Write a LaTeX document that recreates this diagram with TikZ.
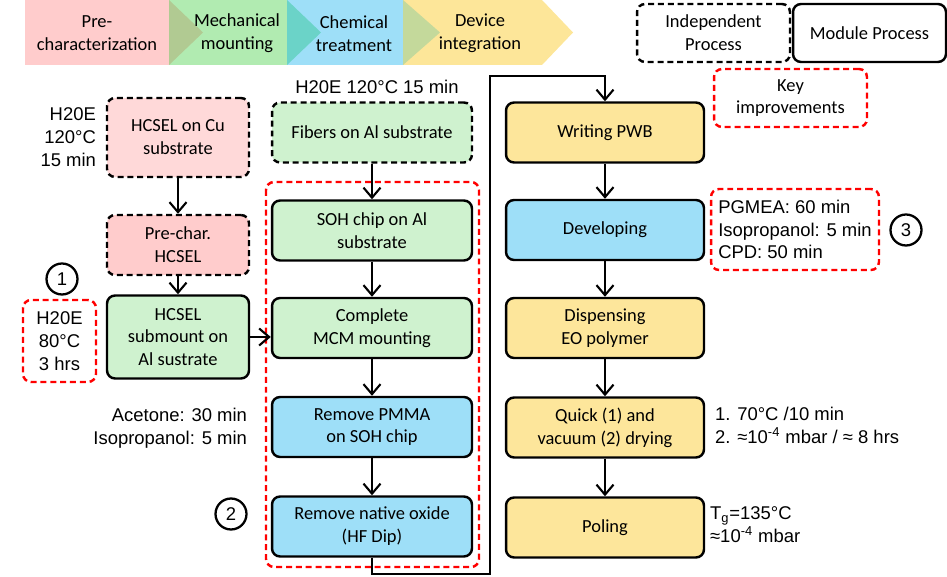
\documentclass[tikz,border=0pt]{standalone}
\usepackage{fontspec}
\setmainfont{Carlito}
\newfontfamily\arialfont{Liberation Sans}
\usetikzlibrary{arrows.meta}

\definecolor{pinkbar}{HTML}{FFCCCC}
\definecolor{greenbar}{HTML}{B1EBB1}
\definecolor{bluebar}{HTML}{9EDFF8}
\definecolor{yellowbar}{HTML}{FDE699}
\definecolor{olivetip}{HTML}{B1CA92}
\definecolor{tealtip}{HTML}{6BD3C8}
\definecolor{limetip}{HTML}{C4D99B}
\definecolor{pinklight}{HTML}{FFD9D9}
\definecolor{pinkbox}{HTML}{FFCCCC}
\definecolor{greenbox}{HTML}{CFF2CF}
\definecolor{bluebox}{HTML}{9EDFF8}
\definecolor{yellowbox}{HTML}{FDE69B}

\tikzset{
	procbox/.style={draw, line width=1.4pt, rounded corners=1.6mm, align=center, minimum width=3.96cm, minimum height=1.2cm, inner sep=1pt, font=\fontsize{10.5}{13}\selectfont},
	indepbox/.style={procbox, dash pattern=on 3.4pt off 2.2pt},
	keybox/.style={draw=red, line width=1.4pt, rounded corners=1.6mm, dash pattern=on 3.4pt off 2.2pt, inner sep=1pt},
	flow/.style={line width=1.2pt, -{Straight Barb[length=2mm,width=3.4mm]}},
	note/.style={font={\arialfont\fontsize{10.5}{13}\selectfont}, inner sep=1pt},
	stepnum/.style={draw, circle, line width=1.3pt, minimum size=0.62cm, inner sep=0pt, font={\arialfont\fontsize{10.5}{13}\selectfont}},
	barlabel/.style={align=center, inner sep=0pt, font=\fontsize{10.5}{13}\selectfont},
}

\begin{document}
\begin{tikzpicture}[x=0.02cm, y=-0.02cm]
			%%%%% START %%%%%
			\useasboundingbox (0, 0) rectangle (947, 577);
			
			%%%%% phase bar %%%%%
			\fill[pinkbar] (25, 0) rectangle (169, 65);
			\fill[greenbar] (169, 0) rectangle (287, 65);
			\fill[olivetip] (169, 0) -- (203, 32.5) -- (169, 65) -- cycle;
			\fill[bluebar] (287, 0) rectangle (403, 65);
			\fill[tealtip] (287, 0) -- (321, 32.5) -- (287, 65) -- cycle;
			\fill[yellowbar] (403, 0) -- (542, 0) -- (573, 32.5) -- (542, 65) -- (403, 65) -- cycle;
			\fill[limetip] (403, 0) -- (440, 32.5) -- (403, 65) -- cycle;
			
			\node[barlabel] (phasechar) at (97, 33.5) {Pre-\\characterization};
			\node[barlabel] (phasemount) at (237, 33.5) {Mechanical\\mounting};
			\node[barlabel] (phasechem) at (354, 33.5) {Chemical\\treatment};
			\node[barlabel] (phasedev) at (480, 33.5) {Device\\integration};
			
			%%%%% legend %%%%%
			\node[indepbox, minimum width=3.06cm, minimum height=1.16cm] (legindep) at (713.5, 33) {Independent\\Process};
			\node[procbox, minimum width=3.06cm, minimum height=1.16cm] (legmodule) at (869.5, 33) {Module Process};
			\node[keybox, minimum width=3.06cm, minimum height=1.16cm, align=center, font=\fontsize{10.5}{13}\selectfont] (legkey) at (790.5, 98) {Key\\improvements};
			
			%%%%% HCSEL column %%%%%
			\node[indepbox, fill=pinklight, minimum width=2.84cm, minimum height=1.58cm] (cu) at (178, 137.5) {HCSEL on Cu\\substrate};
			\node[indepbox, fill=pinkbox, minimum width=2.84cm] (prechar) at (178, 245) {Pre-char.\\HCSEL};
			\node[procbox, fill=greenbox, minimum width=2.84cm, minimum height=1.66cm] (submount) at (178, 337) {HCSEL\\submount on\\Al sustrate};
			
			\node[note, anchor=east, align=right] (cucure) at (98, 137) {H20E\\120°C\\15 min};
			\node[stepnum] (one) at (62, 279) {1};
			\node[keybox, note, align=center, minimum width=1.46cm, minimum height=1.64cm] (subcure) at (59.5, 341) {H20E\\80°C\\3 hrs};
			
			\draw[flow] (cu) -- (prechar);
			\draw[flow] (prechar) -- (submount);
			
			%%%%% SOH column %%%%%
			\draw[keybox] (266, 182) rectangle (479, 567);
			
			\node[indepbox, fill=greenbox, minimum width=4cm] (fibers) at (372, 132.5) {Fibers on Al substrate};
			\node[procbox, fill=greenbox, minimum width=4cm] (soh) at (372, 230.5) {SOH chip on Al\\substrate};
			\node[procbox, fill=greenbox, minimum width=4cm] (mcm) at (372, 328) {Complete\\MCM mounting};
			\node[procbox, fill=bluebox, minimum width=4cm] (pmma) at (372, 427) {Remove PMMA\\on SOH chip};
			\node[procbox, fill=bluebox, minimum width=4cm] (hf) at (372, 526.5) {Remove native oxide\\(HF Dip)};
			
			\node[note] (fibcure) at (377, 87) {H20E 120°C 15 min};
			\node[note, anchor=east, align=right] (solvent) at (249, 428) {Acetone: 30 min\\Isopropanol: 5 min};
			\node[stepnum] (two) at (231, 514) {2};
			
			\draw[flow] (fibers) -- (soh);
			\draw[flow] (soh) -- (mcm);
			\draw[flow] (mcm) -- (pmma);
			\draw[flow] (pmma) -- (hf);
			\draw[flow] (submount.east) -- (submount.east -| mcm.west);
			
			%%%%% device column %%%%%
			\node[procbox, fill=yellowbox] (pwb) at (605, 132.5) {Writing PWB};
			\node[procbox, fill=bluebox] (develop) at (605, 230) {Developing};
			\node[procbox, fill=yellowbox] (dispense) at (605, 328) {Dispensing\\EO polymer};
			\node[procbox, fill=yellowbox] (drying) at (605, 427.5) {Quick (1) and\\vacuum (2) drying};
			\node[procbox, fill=yellowbox] (poling) at (605, 527.5) {Poling};
			
			\node[keybox, note, align=left, minimum width=3.36cm, minimum height=1.62cm] (devsteps) at (795, 229.5) {PGMEA: 60 min\\Isopropanol: 5 min\\CPD: 50 min};
			\node[stepnum] (three) at (906, 230) {3};
			\node[note, anchor=west, align=left] (drysteps) at (713, 425.5) {1. 70°C /10 min\\2. ≈10\textsuperscript{-4} mbar / ≈ 8 hrs};
			\node[note, anchor=west, align=left] (polsteps) at (708, 525) {T\textsubscript{g}=135°C\\≈10\textsuperscript{-4} mbar};
			
			\coordinate (loopbot) at (490, 574);
			\coordinate (looptop) at (490, 76);
			\draw[flow] (hf.south) |- (loopbot) -- (looptop) -| (pwb.north);
			\draw[flow] (pwb) -- (develop);
			\draw[flow] (develop) -- (dispense);
			\draw[flow] (dispense) -- (drying);
			\draw[flow] (drying) -- (poling);
			
			%%%%% END %%%%%
\end{tikzpicture}
\end{document}
